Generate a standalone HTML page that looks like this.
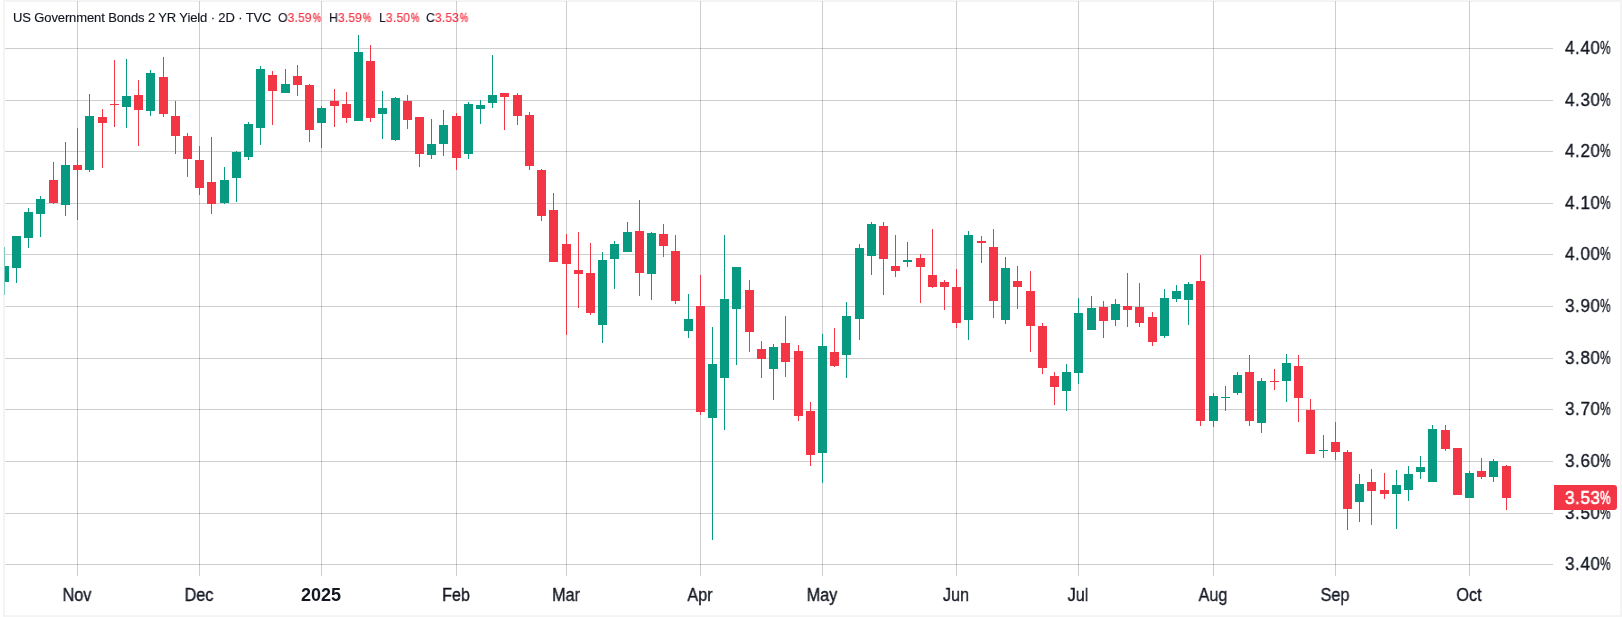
<!DOCTYPE html>
<html><head><meta charset="utf-8"><title>US Government Bonds 2 YR Yield</title><style>
html,body{margin:0;padding:0;background:#fff;width:1622px;height:617px;overflow:hidden;position:relative}
#frame{position:absolute;left:3px;top:0;width:1619px;height:617px;background:#f4f4f4}
#panel{position:absolute;left:5px;top:2px;width:1615px;height:613px;background:#fff}
svg{position:absolute;left:0;top:0}
.t{position:absolute;font-family:"Liberation Sans",Arial,sans-serif;color:#131722;white-space:nowrap;line-height:1;will-change:transform}
.pl,.tl{-webkit-text-stroke:0.35px currentColor}
.hd{-webkit-text-stroke:0.15px currentColor}
.hd{font-size:13px;top:11px}
.ttl{letter-spacing:-0.12px}
.ohlc{transform:scaleX(0.94);transform-origin:0 0;letter-spacing:0.1px}
.pc2{display:inline-block;transform:scaleX(0.76);transform-origin:0 0;width:8.5px;margin-left:0.6px;-webkit-text-stroke:0.35px currentColor}
.r{color:#f23645}
.pl{font-size:18px;left:1565px;transform:scaleX(0.95);transform-origin:0 0;letter-spacing:0.6px}
.pc{display:inline-block;transform:scaleX(0.68);transform-origin:0 0;width:11px}
.tl{font-size:18px;top:586px;transform:translateX(-50%) scaleX(0.9)}
.tb{font-size:18px;top:586px;transform:translateX(-50%);font-weight:bold}
#last{position:absolute;left:1554px;top:485px;width:63px;height:25px;background:#f23645;border-radius:0 3px 3px 0}
</style></head><body>
<div id="frame"></div>
<div id="panel"></div>
<svg width="1622" height="617" viewBox="0 0 1622 617" shape-rendering="crispEdges">
<rect x="5" y="48" width="1548" height="1" fill="#2a2e39" fill-opacity="0.235"/>
<rect x="5" y="100" width="1548" height="1" fill="#2a2e39" fill-opacity="0.235"/>
<rect x="5" y="151" width="1548" height="1" fill="#2a2e39" fill-opacity="0.235"/>
<rect x="5" y="203" width="1548" height="1" fill="#2a2e39" fill-opacity="0.235"/>
<rect x="5" y="254" width="1548" height="1" fill="#2a2e39" fill-opacity="0.235"/>
<rect x="5" y="306" width="1548" height="1" fill="#2a2e39" fill-opacity="0.235"/>
<rect x="5" y="358" width="1548" height="1" fill="#2a2e39" fill-opacity="0.235"/>
<rect x="5" y="409" width="1548" height="1" fill="#2a2e39" fill-opacity="0.235"/>
<rect x="5" y="461" width="1548" height="1" fill="#2a2e39" fill-opacity="0.235"/>
<rect x="5" y="513" width="1548" height="1" fill="#2a2e39" fill-opacity="0.235"/>
<rect x="5" y="564" width="1548" height="1" fill="#2a2e39" fill-opacity="0.235"/>
<rect x="77" y="1" width="1" height="575" fill="#2a2e39" fill-opacity="0.235"/>
<rect x="199" y="1" width="1" height="575" fill="#2a2e39" fill-opacity="0.235"/>
<rect x="321" y="1" width="1" height="575" fill="#2a2e39" fill-opacity="0.235"/>
<rect x="456" y="1" width="1" height="575" fill="#2a2e39" fill-opacity="0.235"/>
<rect x="566" y="1" width="1" height="575" fill="#2a2e39" fill-opacity="0.235"/>
<rect x="700" y="1" width="1" height="575" fill="#2a2e39" fill-opacity="0.235"/>
<rect x="822" y="1" width="1" height="575" fill="#2a2e39" fill-opacity="0.235"/>
<rect x="956" y="1" width="1" height="575" fill="#2a2e39" fill-opacity="0.235"/>
<rect x="1078" y="1" width="1" height="575" fill="#2a2e39" fill-opacity="0.235"/>
<rect x="1213" y="1" width="1" height="575" fill="#2a2e39" fill-opacity="0.235"/>
<rect x="1335" y="1" width="1" height="575" fill="#2a2e39" fill-opacity="0.235"/>
<rect x="1469" y="1" width="1" height="575" fill="#2a2e39" fill-opacity="0.235"/>
<rect x="4" y="247" width="1" height="48" fill="#7fcabd"/>
<rect x="5" y="266" width="4" height="16" fill="#089981"/>
<rect x="16" y="236" width="1" height="47" fill="#089981"/>
<rect x="12" y="236" width="9" height="32" fill="#089981"/>
<rect x="28" y="208" width="1" height="40" fill="#089981"/>
<rect x="24" y="212" width="9" height="26" fill="#089981"/>
<rect x="40" y="196" width="1" height="41" fill="#089981"/>
<rect x="36" y="199" width="9" height="15" fill="#089981"/>
<rect x="53" y="162" width="1" height="42" fill="#f23645"/>
<rect x="49" y="180" width="9" height="23" fill="#f23645"/>
<rect x="65" y="142" width="1" height="74" fill="#089981"/>
<rect x="61" y="165" width="9" height="40" fill="#089981"/>
<rect x="77" y="128" width="1" height="92" fill="#f23645"/>
<rect x="73" y="165" width="9" height="5" fill="#f23645"/>
<rect x="89" y="94" width="1" height="78" fill="#089981"/>
<rect x="85" y="116" width="9" height="54" fill="#089981"/>
<rect x="102" y="109" width="1" height="59" fill="#f23645"/>
<rect x="98" y="117" width="9" height="6" fill="#f23645"/>
<rect x="114" y="60" width="1" height="67" fill="#f23645"/>
<rect x="110" y="104" width="9" height="1" fill="#f23645"/>
<rect x="126" y="59" width="1" height="69" fill="#089981"/>
<rect x="122" y="96" width="9" height="11" fill="#089981"/>
<rect x="138" y="80" width="1" height="66" fill="#f23645"/>
<rect x="134" y="95" width="9" height="15" fill="#f23645"/>
<rect x="150" y="70" width="1" height="46" fill="#089981"/>
<rect x="146" y="73" width="9" height="38" fill="#089981"/>
<rect x="163" y="57" width="1" height="60" fill="#f23645"/>
<rect x="159" y="77" width="9" height="37" fill="#f23645"/>
<rect x="175" y="101" width="1" height="53" fill="#f23645"/>
<rect x="171" y="116" width="9" height="20" fill="#f23645"/>
<rect x="187" y="133" width="1" height="44" fill="#f23645"/>
<rect x="183" y="136" width="9" height="23" fill="#f23645"/>
<rect x="199" y="146" width="1" height="49" fill="#f23645"/>
<rect x="195" y="160" width="9" height="28" fill="#f23645"/>
<rect x="211" y="137" width="1" height="77" fill="#f23645"/>
<rect x="207" y="182" width="9" height="22" fill="#f23645"/>
<rect x="224" y="167" width="1" height="37" fill="#089981"/>
<rect x="220" y="180" width="9" height="23" fill="#089981"/>
<rect x="236" y="151" width="1" height="51" fill="#089981"/>
<rect x="232" y="152" width="9" height="26" fill="#089981"/>
<rect x="248" y="122" width="1" height="38" fill="#089981"/>
<rect x="244" y="124" width="9" height="33" fill="#089981"/>
<rect x="260" y="66" width="1" height="79" fill="#089981"/>
<rect x="256" y="69" width="9" height="59" fill="#089981"/>
<rect x="272" y="71" width="1" height="54" fill="#f23645"/>
<rect x="268" y="75" width="9" height="16" fill="#f23645"/>
<rect x="285" y="69" width="1" height="24" fill="#089981"/>
<rect x="281" y="84" width="9" height="9" fill="#089981"/>
<rect x="297" y="65" width="1" height="31" fill="#f23645"/>
<rect x="293" y="76" width="9" height="9" fill="#f23645"/>
<rect x="309" y="84" width="1" height="58" fill="#f23645"/>
<rect x="305" y="85" width="9" height="45" fill="#f23645"/>
<rect x="321" y="106" width="1" height="42" fill="#089981"/>
<rect x="317" y="108" width="9" height="15" fill="#089981"/>
<rect x="334" y="89" width="1" height="38" fill="#f23645"/>
<rect x="330" y="101" width="9" height="5" fill="#f23645"/>
<rect x="346" y="92" width="1" height="31" fill="#f23645"/>
<rect x="342" y="104" width="9" height="14" fill="#f23645"/>
<rect x="358" y="35" width="1" height="86" fill="#089981"/>
<rect x="354" y="52" width="9" height="69" fill="#089981"/>
<rect x="370" y="45" width="1" height="77" fill="#f23645"/>
<rect x="366" y="61" width="9" height="57" fill="#f23645"/>
<rect x="382" y="91" width="1" height="48" fill="#089981"/>
<rect x="378" y="108" width="9" height="6" fill="#089981"/>
<rect x="395" y="97" width="1" height="44" fill="#089981"/>
<rect x="391" y="98" width="9" height="42" fill="#089981"/>
<rect x="407" y="95" width="1" height="34" fill="#f23645"/>
<rect x="403" y="101" width="9" height="19" fill="#f23645"/>
<rect x="419" y="117" width="1" height="50" fill="#f23645"/>
<rect x="415" y="117" width="9" height="37" fill="#f23645"/>
<rect x="431" y="119" width="1" height="40" fill="#089981"/>
<rect x="427" y="144" width="9" height="11" fill="#089981"/>
<rect x="443" y="110" width="1" height="46" fill="#089981"/>
<rect x="439" y="125" width="9" height="19" fill="#089981"/>
<rect x="456" y="113" width="1" height="57" fill="#f23645"/>
<rect x="452" y="116" width="9" height="42" fill="#f23645"/>
<rect x="468" y="102" width="1" height="57" fill="#089981"/>
<rect x="464" y="104" width="9" height="50" fill="#089981"/>
<rect x="480" y="100" width="1" height="24" fill="#089981"/>
<rect x="476" y="105" width="9" height="4" fill="#089981"/>
<rect x="492" y="55" width="1" height="53" fill="#089981"/>
<rect x="488" y="95" width="9" height="8" fill="#089981"/>
<rect x="504" y="93" width="1" height="37" fill="#f23645"/>
<rect x="500" y="93" width="9" height="4" fill="#f23645"/>
<rect x="517" y="93" width="1" height="32" fill="#f23645"/>
<rect x="513" y="95" width="9" height="21" fill="#f23645"/>
<rect x="529" y="112" width="1" height="58" fill="#f23645"/>
<rect x="525" y="115" width="9" height="51" fill="#f23645"/>
<rect x="541" y="169" width="1" height="52" fill="#f23645"/>
<rect x="537" y="170" width="9" height="46" fill="#f23645"/>
<rect x="553" y="193" width="1" height="69" fill="#f23645"/>
<rect x="549" y="210" width="9" height="52" fill="#f23645"/>
<rect x="566" y="234" width="1" height="101" fill="#f23645"/>
<rect x="562" y="244" width="9" height="20" fill="#f23645"/>
<rect x="578" y="232" width="1" height="76" fill="#f23645"/>
<rect x="574" y="270" width="9" height="4" fill="#f23645"/>
<rect x="590" y="243" width="1" height="72" fill="#f23645"/>
<rect x="586" y="273" width="9" height="40" fill="#f23645"/>
<rect x="602" y="252" width="1" height="91" fill="#089981"/>
<rect x="598" y="260" width="9" height="65" fill="#089981"/>
<rect x="614" y="241" width="1" height="48" fill="#089981"/>
<rect x="610" y="244" width="9" height="15" fill="#089981"/>
<rect x="627" y="222" width="1" height="30" fill="#089981"/>
<rect x="623" y="232" width="9" height="20" fill="#089981"/>
<rect x="639" y="200" width="1" height="96" fill="#f23645"/>
<rect x="635" y="231" width="9" height="42" fill="#f23645"/>
<rect x="651" y="232" width="1" height="68" fill="#089981"/>
<rect x="647" y="233" width="9" height="41" fill="#089981"/>
<rect x="663" y="224" width="1" height="33" fill="#f23645"/>
<rect x="659" y="234" width="9" height="12" fill="#f23645"/>
<rect x="675" y="235" width="1" height="69" fill="#f23645"/>
<rect x="671" y="251" width="9" height="50" fill="#f23645"/>
<rect x="688" y="294" width="1" height="44" fill="#089981"/>
<rect x="684" y="319" width="9" height="12" fill="#089981"/>
<rect x="700" y="275" width="1" height="140" fill="#f23645"/>
<rect x="696" y="306" width="9" height="106" fill="#f23645"/>
<rect x="712" y="327" width="1" height="213" fill="#089981"/>
<rect x="708" y="364" width="9" height="54" fill="#089981"/>
<rect x="724" y="235" width="1" height="195" fill="#089981"/>
<rect x="720" y="299" width="9" height="79" fill="#089981"/>
<rect x="736" y="267" width="1" height="98" fill="#089981"/>
<rect x="732" y="267" width="9" height="42" fill="#089981"/>
<rect x="749" y="280" width="1" height="72" fill="#f23645"/>
<rect x="745" y="290" width="9" height="42" fill="#f23645"/>
<rect x="761" y="341" width="1" height="37" fill="#f23645"/>
<rect x="757" y="349" width="9" height="10" fill="#f23645"/>
<rect x="773" y="344" width="1" height="56" fill="#089981"/>
<rect x="769" y="347" width="9" height="22" fill="#089981"/>
<rect x="785" y="316" width="1" height="61" fill="#f23645"/>
<rect x="781" y="343" width="9" height="19" fill="#f23645"/>
<rect x="798" y="345" width="1" height="76" fill="#f23645"/>
<rect x="794" y="351" width="9" height="65" fill="#f23645"/>
<rect x="810" y="402" width="1" height="64" fill="#f23645"/>
<rect x="806" y="411" width="9" height="44" fill="#f23645"/>
<rect x="822" y="334" width="1" height="149" fill="#089981"/>
<rect x="818" y="346" width="9" height="107" fill="#089981"/>
<rect x="834" y="328" width="1" height="39" fill="#f23645"/>
<rect x="830" y="352" width="9" height="14" fill="#f23645"/>
<rect x="846" y="302" width="1" height="76" fill="#089981"/>
<rect x="842" y="316" width="9" height="39" fill="#089981"/>
<rect x="859" y="244" width="1" height="96" fill="#089981"/>
<rect x="855" y="248" width="9" height="71" fill="#089981"/>
<rect x="871" y="222" width="1" height="53" fill="#089981"/>
<rect x="867" y="224" width="9" height="32" fill="#089981"/>
<rect x="883" y="222" width="1" height="73" fill="#f23645"/>
<rect x="879" y="226" width="9" height="33" fill="#f23645"/>
<rect x="895" y="235" width="1" height="42" fill="#f23645"/>
<rect x="891" y="266" width="9" height="5" fill="#f23645"/>
<rect x="907" y="242" width="1" height="25" fill="#089981"/>
<rect x="903" y="260" width="9" height="2" fill="#089981"/>
<rect x="920" y="254" width="1" height="49" fill="#f23645"/>
<rect x="916" y="258" width="9" height="9" fill="#f23645"/>
<rect x="932" y="229" width="1" height="59" fill="#f23645"/>
<rect x="928" y="275" width="9" height="12" fill="#f23645"/>
<rect x="944" y="280" width="1" height="30" fill="#f23645"/>
<rect x="940" y="282" width="9" height="5" fill="#f23645"/>
<rect x="956" y="269" width="1" height="59" fill="#f23645"/>
<rect x="952" y="287" width="9" height="36" fill="#f23645"/>
<rect x="968" y="231" width="1" height="109" fill="#089981"/>
<rect x="964" y="235" width="9" height="85" fill="#089981"/>
<rect x="981" y="236" width="1" height="27" fill="#f23645"/>
<rect x="977" y="241" width="9" height="2" fill="#f23645"/>
<rect x="993" y="229" width="1" height="89" fill="#f23645"/>
<rect x="989" y="247" width="9" height="54" fill="#f23645"/>
<rect x="1005" y="257" width="1" height="67" fill="#089981"/>
<rect x="1001" y="268" width="9" height="52" fill="#089981"/>
<rect x="1017" y="266" width="1" height="43" fill="#f23645"/>
<rect x="1013" y="281" width="9" height="6" fill="#f23645"/>
<rect x="1030" y="271" width="1" height="81" fill="#f23645"/>
<rect x="1026" y="291" width="9" height="35" fill="#f23645"/>
<rect x="1042" y="323" width="1" height="51" fill="#f23645"/>
<rect x="1038" y="326" width="9" height="42" fill="#f23645"/>
<rect x="1054" y="372" width="1" height="33" fill="#f23645"/>
<rect x="1050" y="376" width="9" height="11" fill="#f23645"/>
<rect x="1066" y="364" width="1" height="47" fill="#089981"/>
<rect x="1062" y="372" width="9" height="19" fill="#089981"/>
<rect x="1078" y="298" width="1" height="86" fill="#089981"/>
<rect x="1074" y="313" width="9" height="60" fill="#089981"/>
<rect x="1091" y="296" width="1" height="34" fill="#089981"/>
<rect x="1087" y="308" width="9" height="22" fill="#089981"/>
<rect x="1103" y="301" width="1" height="37" fill="#f23645"/>
<rect x="1099" y="307" width="9" height="14" fill="#f23645"/>
<rect x="1115" y="299" width="1" height="27" fill="#089981"/>
<rect x="1111" y="304" width="9" height="16" fill="#089981"/>
<rect x="1127" y="273" width="1" height="54" fill="#f23645"/>
<rect x="1123" y="306" width="9" height="4" fill="#f23645"/>
<rect x="1139" y="283" width="1" height="44" fill="#f23645"/>
<rect x="1135" y="307" width="9" height="16" fill="#f23645"/>
<rect x="1152" y="312" width="1" height="34" fill="#f23645"/>
<rect x="1148" y="317" width="9" height="25" fill="#f23645"/>
<rect x="1164" y="289" width="1" height="49" fill="#089981"/>
<rect x="1160" y="298" width="9" height="38" fill="#089981"/>
<rect x="1176" y="285" width="1" height="17" fill="#089981"/>
<rect x="1172" y="291" width="9" height="8" fill="#089981"/>
<rect x="1188" y="282" width="1" height="43" fill="#089981"/>
<rect x="1184" y="284" width="9" height="16" fill="#089981"/>
<rect x="1200" y="255" width="1" height="171" fill="#f23645"/>
<rect x="1196" y="281" width="9" height="140" fill="#f23645"/>
<rect x="1213" y="393" width="1" height="34" fill="#089981"/>
<rect x="1209" y="396" width="9" height="25" fill="#089981"/>
<rect x="1225" y="386" width="1" height="25" fill="#089981"/>
<rect x="1221" y="397" width="9" height="1" fill="#089981"/>
<rect x="1237" y="372" width="1" height="23" fill="#089981"/>
<rect x="1233" y="375" width="9" height="18" fill="#089981"/>
<rect x="1249" y="355" width="1" height="71" fill="#f23645"/>
<rect x="1245" y="372" width="9" height="49" fill="#f23645"/>
<rect x="1261" y="378" width="1" height="55" fill="#089981"/>
<rect x="1257" y="381" width="9" height="42" fill="#089981"/>
<rect x="1274" y="369" width="1" height="21" fill="#f23645"/>
<rect x="1270" y="381" width="9" height="1" fill="#f23645"/>
<rect x="1286" y="354" width="1" height="48" fill="#089981"/>
<rect x="1282" y="363" width="9" height="18" fill="#089981"/>
<rect x="1298" y="355" width="1" height="67" fill="#f23645"/>
<rect x="1294" y="366" width="9" height="32" fill="#f23645"/>
<rect x="1310" y="399" width="1" height="55" fill="#f23645"/>
<rect x="1306" y="410" width="9" height="44" fill="#f23645"/>
<rect x="1323" y="435" width="1" height="23" fill="#089981"/>
<rect x="1319" y="450" width="9" height="1" fill="#089981"/>
<rect x="1335" y="422" width="1" height="38" fill="#f23645"/>
<rect x="1331" y="442" width="9" height="10" fill="#f23645"/>
<rect x="1347" y="450" width="1" height="80" fill="#f23645"/>
<rect x="1343" y="452" width="9" height="57" fill="#f23645"/>
<rect x="1359" y="474" width="1" height="48" fill="#089981"/>
<rect x="1355" y="484" width="9" height="18" fill="#089981"/>
<rect x="1371" y="469" width="1" height="56" fill="#f23645"/>
<rect x="1367" y="482" width="9" height="9" fill="#f23645"/>
<rect x="1384" y="473" width="1" height="26" fill="#f23645"/>
<rect x="1380" y="490" width="9" height="4" fill="#f23645"/>
<rect x="1396" y="470" width="1" height="59" fill="#089981"/>
<rect x="1392" y="485" width="9" height="9" fill="#089981"/>
<rect x="1408" y="466" width="1" height="35" fill="#089981"/>
<rect x="1404" y="474" width="9" height="16" fill="#089981"/>
<rect x="1420" y="456" width="1" height="23" fill="#089981"/>
<rect x="1416" y="467" width="9" height="5" fill="#089981"/>
<rect x="1432" y="425" width="1" height="57" fill="#089981"/>
<rect x="1428" y="429" width="9" height="53" fill="#089981"/>
<rect x="1445" y="425" width="1" height="26" fill="#f23645"/>
<rect x="1441" y="430" width="9" height="19" fill="#f23645"/>
<rect x="1457" y="448" width="1" height="47" fill="#f23645"/>
<rect x="1453" y="448" width="9" height="47" fill="#f23645"/>
<rect x="1469" y="471" width="1" height="27" fill="#089981"/>
<rect x="1465" y="473" width="9" height="25" fill="#089981"/>
<rect x="1481" y="458" width="1" height="21" fill="#f23645"/>
<rect x="1477" y="471" width="9" height="6" fill="#f23645"/>
<rect x="1493" y="459" width="1" height="23" fill="#089981"/>
<rect x="1489" y="461" width="9" height="16" fill="#089981"/>
<rect x="1506" y="465" width="1" height="45" fill="#f23645"/>
<rect x="1502" y="466" width="9" height="32" fill="#f23645"/>
</svg>
<div class="t hd ttl" style="left:13px">US Government Bonds 2 YR Yield · 2D · TVC</div>
<div class="t hd ohlc" style="left:278px">O<span class="r">3.59<span class="pc2">%</span></span></div>
<div class="t hd ohlc" style="left:329px">H<span class="r">3.59<span class="pc2">%</span></span></div>
<div class="t hd ohlc" style="left:379px">L<span class="r">3.50<span class="pc2">%</span></span></div>
<div class="t hd ohlc" style="left:426px">C<span class="r">3.53<span class="pc2">%</span></span></div>
<div class="t pl" style="top:39px">4.40<span class="pc">%</span></div>
<div class="t pl" style="top:91px">4.30<span class="pc">%</span></div>
<div class="t pl" style="top:142px">4.20<span class="pc">%</span></div>
<div class="t pl" style="top:194px">4.10<span class="pc">%</span></div>
<div class="t pl" style="top:245px">4.00<span class="pc">%</span></div>
<div class="t pl" style="top:297px">3.90<span class="pc">%</span></div>
<div class="t pl" style="top:349px">3.80<span class="pc">%</span></div>
<div class="t pl" style="top:400px">3.70<span class="pc">%</span></div>
<div class="t pl" style="top:452px">3.60<span class="pc">%</span></div>
<div class="t pl" style="top:504px">3.50<span class="pc">%</span></div>
<div class="t pl" style="top:555px">3.40<span class="pc">%</span></div>
<div id="last"></div>
<div class="t pl" style="top:489px;color:#fff;-webkit-text-stroke:0.6px #fff">3.53<span class="pc">%</span></div>
<div class="t tl" style="left:77px">Nov</div>
<div class="t tl" style="left:199px">Dec</div>
<div class="t tb" style="left:321px">2025</div>
<div class="t tl" style="left:456px">Feb</div>
<div class="t tl" style="left:566px">Mar</div>
<div class="t tl" style="left:700px">Apr</div>
<div class="t tl" style="left:822px">May</div>
<div class="t tl" style="left:956px">Jun</div>
<div class="t tl" style="left:1078px">Jul</div>
<div class="t tl" style="left:1213px">Aug</div>
<div class="t tl" style="left:1335px">Sep</div>
<div class="t tl" style="left:1469px">Oct</div>
</body></html>
